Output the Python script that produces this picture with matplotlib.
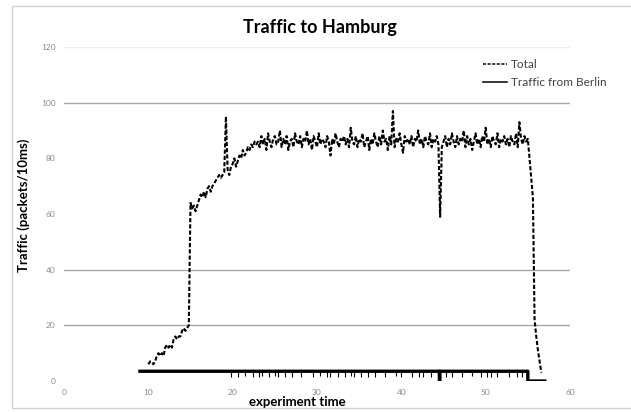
#!/usr/bin/env python3
"""Traffic to Hamburg - total vs. traffic from Berlin"""

import numpy as np
import matplotlib
matplotlib.use('Agg')
import matplotlib.pyplot as plt
from matplotlib.patches import Rectangle

plt.rcParams['font.family'] = ['Lato', 'DejaVu Sans']

# total traffic, sampled every 0.2 time units starting at 10.0
total_start, total_step = 10.0, 0.2
total_values = [
    6, 7, 7, 6, 7, 9, 10, 9, 10, 9,
    12, 13, 12, 13, 12, 15, 16, 15, 16, 16,
    18, 19, 18, 19, 20, 64, 62, 63, 61, 63,
    65, 67, 66, 68, 66, 69, 70, 68, 70, 71,
    72, 73, 74, 73, 74, 75, 95, 76, 74, 77,
    78, 80, 77, 79, 81, 80, 83, 81, 82, 84,
    83, 85, 84, 86, 85,
    # plateau 23.0 - 55.0
    86, 84, 88, 85, 87, 83, 89, 86, 84, 87,
    88, 85, 86, 90, 84, 87, 85, 88, 83, 86,
    87, 84, 89, 86, 85, 88, 84, 87, 86, 90,
    85, 87, 83, 88, 86, 84, 89, 85, 87, 86,
    84, 88, 86, 81, 87, 85, 89, 86, 84, 87,
    86, 88, 85, 87, 84, 91, 86, 85, 88, 84,
    87, 86, 89, 84, 86, 88, 83, 87, 85, 89,
    86, 84, 88, 85, 90, 86, 87, 83, 88, 85,
    97, 84, 87, 86, 89, 85, 82, 88, 86, 87,
    85, 88, 84, 87, 86, 90, 85, 87, 84, 88,
    86, 85, 89, 84, 87, 86, 88, 85, 59, 84,
    86, 88, 84, 87, 85, 89, 86, 84, 88, 85,
    87, 86, 90, 84, 88, 85, 87, 83, 86, 89,
    85, 87, 84, 88, 86, 91, 85, 87, 84, 88,
    86, 85, 89, 84, 87, 86, 88, 85, 87, 84,
    88, 86, 85, 89, 84, 93, 87, 85, 88, 86,
    87,
    # ramp down
    80, 73, 66, 22, 16, 11, 7, 3,
]

# traffic from Berlin: nearly constant, one outage and the final stop
berlin_t = [9.0, 44.5, 44.52, 44.56, 44.58, 55.0, 55.0, 57.0]
berlin_values = [3.5, 3.5, 0.0, 0.0, 3.5, 3.5, 0.0, 0.0]
# short drops of the Berlin traffic (time, lowest value)
berlin_drop_t = [19.8, 20.6, 21.5, 22.4, 23.1, 23.5, 24.3, 25.0, 25.4, 26.2,
                 27.0, 28.1, 29.5, 30.3, 31.2, 31.6, 32.5, 33.3, 34.0, 34.4,
                 35.2, 36.0, 36.9, 38.1, 39.4, 40.0, 41.3, 42.1, 42.6, 43.5,
                 45.3, 46.0, 47.2, 48.4, 49.5, 50.1, 50.6, 51.4, 52.8, 53.7, 54.3]
berlin_drop_low = [1.6, 1.4, 1.8, 1.5, 1.4, 1.7, 1.3, 1.8, 1.5, 1.4,
                   1.6, 1.5, 1.4, 1.8, 1.3, 1.6, 1.5, 1.4, 1.8, 1.6,
                   1.3, 1.5, 1.6, 1.4, 1.8, 1.5, 1.4, 1.6, 1.3, 1.5,
                   1.4, 1.6, 1.5, 1.8, 1.4, 1.3, 1.6, 1.5, 1.4, 1.6, 1.5]

x_ticks = [0, 10, 20, 30, 40, 50, 60]
y_ticks = [0, 20, 40, 60, 80, 100, 120]
grid_levels = [20, 40, 100]
faint_grid_levels = [120]

total_t = total_start + total_step * np.arange(len(total_values))

fig = plt.figure(figsize=(6.31, 4.12), dpi=100)
ax = fig.add_axes([64 / 631, 1 - 381 / 412, (570 - 64) / 631, (381 - 47) / 412])

# chart border
fig.patches.append(Rectangle((12 / 631, 4 / 412), 1.2, 1 - 10 / 412,
                             transform=fig.transFigure, fill=False,
                             edgecolor='#d0d0d0', linewidth=1))

for lvl in grid_levels:
    ax.axhline(lvl, color='#a6a6a6', linewidth=1, zorder=0)
for lvl in faint_grid_levels:
    ax.axhline(lvl, color='#ececec', linewidth=1, zorder=0)

ax.plot(total_t, total_values, color='black', linestyle=(0, (2.0, 1.0)),
        linewidth=1.5, label='Total')
ax.plot(berlin_t, berlin_values, color='black', linestyle='-',
        linewidth=2.4, label='Traffic from Berlin')
ax.vlines(berlin_drop_t, berlin_drop_low, 3.5, color='black', linewidth=0.8)

ax.set_xlim(0, 60)
ax.set_ylim(0, 120)
ax.set_xticks(x_ticks)
ax.set_yticks(y_ticks)
ax.tick_params(length=0, labelsize=6, labelcolor='#8a8a8a', pad=6)
for s in ax.spines.values():
    s.set_visible(False)

ax.set_xlabel('experiment time', fontsize=9.5, fontweight='bold')
ax.xaxis.set_label_coords((297 - 64) / 506, -0.045)
ax.set_ylabel('Traffic (packets/10ms)', fontsize=9.5, fontweight='bold')
ax.yaxis.set_label_coords((30 - 64) / 506, (381 - 205) / 334)
fig.text(320 / 631, 1 - 27 / 412, 'Traffic to Hamburg', ha='center', va='center',
         fontsize=13, fontweight='bold')

leg = ax.legend(loc='upper left', bbox_to_anchor=(0.808, 0.995), frameon=False,
                fontsize=8.5, handlelength=2.0, handletextpad=0.3, labelspacing=0.55)
for t in leg.get_texts():
    t.set_color('#404040')
for ln in leg.get_lines():
    ln.set_linewidth(1.1)

plt.savefig('out.png', dpi=100)
